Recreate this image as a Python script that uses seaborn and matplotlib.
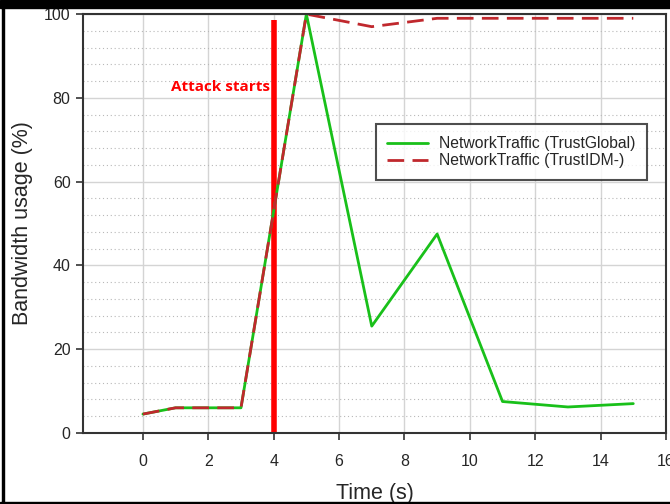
import matplotlib
matplotlib.use("Agg")
import matplotlib.pyplot as plt
import seaborn as sns
import pandas as pd
from matplotlib.patches import Rectangle
from matplotlib.ticker import MultipleLocator

time_s = [0, 1, 3, 5, 7, 9, 11, 13, 15]
trust_global = [4.5, 6, 6, 100, 25.5, 47.5, 7.5, 6.2, 7]
trust_idm = [4.5, 6, 6, 100, 97, 99, 99, 99, 99]
series_names = ["NetworkTraffic (TrustGlobal)", "NetworkTraffic (TrustIDM-)"]
attack_time = 4
attack_label = "Attack starts"

sns.set_theme(style="white")
plt.rcParams['font.family'] = ['Liberation Sans', 'DejaVu Sans']

df = pd.DataFrame({
    "Time": time_s * 2,
    "Usage": trust_global + trust_idm,
    "Series": [series_names[0]] * len(time_s) + [series_names[1]] * len(time_s),
})

fig = plt.figure(figsize=(6.7, 5.04), dpi=100)
ax = fig.add_axes([0.124, 0.141, 0.870, 0.831])

ax.set_xlim(-1.83, 16)
ax.set_ylim(0, 100)
ax.xaxis.set_major_locator(MultipleLocator(2))
ax.yaxis.set_major_locator(MultipleLocator(20))
ax.yaxis.set_minor_locator(MultipleLocator(4))
ax.grid(True, which="major", color="#d4d4d4", linewidth=1.0)
ax.grid(True, which="minor", axis="y", color="#b8b8b8", linewidth=0.8, linestyle=(0, (1, 2.5)))
ax.set_axisbelow(True)

sns.lineplot(data=df, x="Time", y="Usage", hue="Series", style="Series",
             palette={series_names[0]: "#19c01a", series_names[1]: "#c0282d"},
             dashes={series_names[0]: "", series_names[1]: (6, 3)},
             linewidth=2.0, ax=ax, legend=True)

ax.plot([attack_time, attack_time], [0, 98.5], color="#ff0000", linewidth=4, solid_capstyle="butt", zorder=1.5)
ax.text(attack_time - 0.1, 82.5, attack_label, color="#ff0000", fontsize=11, fontweight="bold",
        ha="right", va="center", family=["Open Sans", "DejaVu Sans"])

for s in ax.spines.values():
    s.set_color("#333333")
    s.set_linewidth(1.5)
ax.tick_params(axis="both", which="major", direction="out", length=5, width=1.2,
               color="#333333", labelsize=11.5, bottom=True, left=True, pad=10)
ax.tick_params(axis="y", pad=4)
ax.tick_params(axis="both", which="minor", length=0)
ax.set_xticks(range(0, 17, 2))

ax.set_xlabel("Time (s)", fontsize=15.5, labelpad=10)
ax.set_ylabel("Bandwidth usage (%)", fontsize=15.5, labelpad=8)

leg = ax.legend(loc="upper left", bbox_to_anchor=(0.4885, 0.7555), frameon=True, fancybox=False,
                fontsize=11.3, handlelength=2.6, handletextpad=0.7, borderpad=0.75, labelspacing=0.15)
leg.get_frame().set_edgecolor("#222222")
leg.get_frame().set_linewidth(1.5)

# screenshot frame
fig.patches.append(Rectangle((0, 0.985), 1, 0.015, transform=fig.transFigure, color="black", zorder=0))
fig.patches.append(Rectangle((0.003, 0), 0.003, 1, transform=fig.transFigure, color="black", zorder=0))
fig.patches.append(Rectangle((0, 0), 1, 0.004, transform=fig.transFigure, color="black", zorder=0))

fig.savefig("out.png", dpi=100)
